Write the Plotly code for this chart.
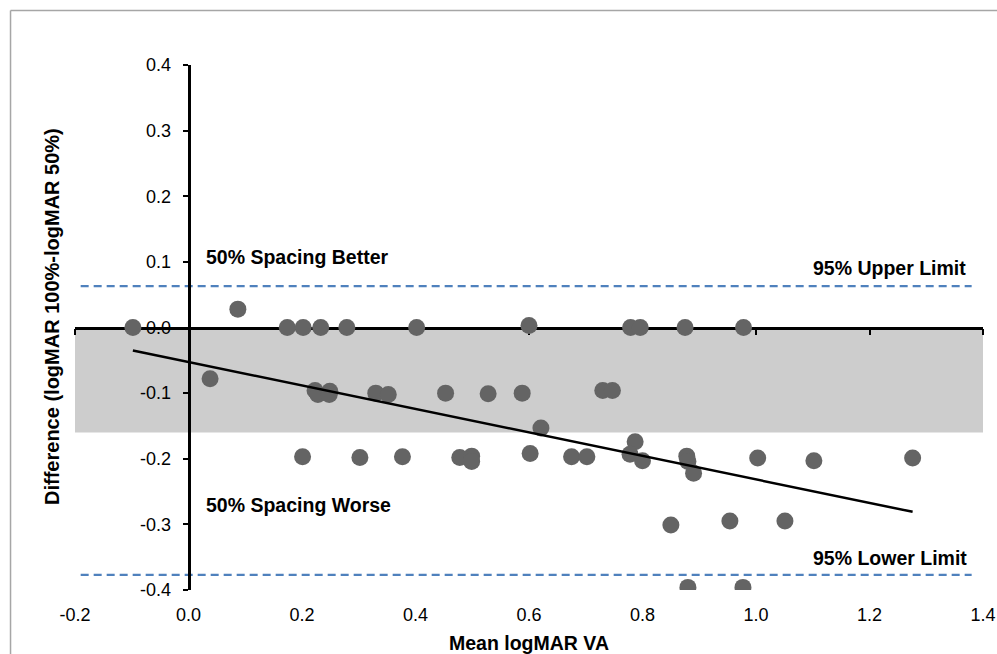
import plotly.graph_objects as go
import numpy as np

# ---- data ----
mean_va = [-0.098, 0.038, 0.087, 0.174, 0.202, 0.233, 0.279, 0.402, 0.600, 0.779,
           0.796, 0.875, 0.978, 0.223, 0.228, 0.249, 0.248, 0.330, 0.352, 0.453,
           0.528, 0.588, 0.730, 0.747, 0.621, 0.201, 0.302, 0.377, 0.478, 0.499,
           0.499, 0.602, 0.675, 0.702, 0.787, 0.778, 0.800, 0.878, 0.880, 0.890,
           1.003, 1.102, 1.276, 0.850, 0.954, 1.051, 0.880, 0.977]
difference = [0.000, -0.078, 0.028, 0.000, 0.000, 0.000, 0.000, 0.000, 0.003, 0.000,
              0.000, 0.000, 0.000, -0.096, -0.102, -0.097, -0.102, -0.100, -0.102, -0.100,
              -0.101, -0.100, -0.096, -0.096, -0.153, -0.197, -0.198, -0.197, -0.198, -0.196,
              -0.204, -0.192, -0.197, -0.197, -0.174, -0.193, -0.203, -0.196, -0.204, -0.222,
              -0.199, -0.203, -0.199, -0.301, -0.295, -0.295, -0.396, -0.396]

upper_limit = 0.063
lower_limit = -0.377
limit_x = [-0.19, 1.38]
band_top = 0.0
band_bottom = -0.16
reg_intercept = -0.0525
reg_slope = -0.179

x_ticks = [-0.2, 0.0, 0.2, 0.4, 0.6, 0.8, 1.0, 1.2, 1.4]
y_ticks = [-0.4, -0.3, -0.2, -0.1, 0.0, 0.1, 0.2, 0.3, 0.4]
x_tick_labels = ["-0.2", "0.0", "0.2", "0.4", "0.6", "0.8", "1.0", "1.2", "1.4"]
y_tick_labels = ["-0.4", "-0.3", "-0.2", "-0.1", "0.0", "0.1", "0.2", "0.3", "0.4"]

labels = {
    "better": "50% Spacing Better",
    "worse": "50% Spacing Worse",
    "upper": "95% Upper Limit",
    "lower": "95% Lower Limit",
}
label_pos = {
    "better": (0.027, 0.107, "left"),
    "worse": (0.027, -0.2705, "left"),
    "upper": (1.374, 0.0914, "right"),
    "lower": (1.375, -0.351, "right"),
}

FONT = "Liberation Sans, Arial, sans-serif"
BLUE = "#4F81BD"
DOT = "#646464"

fig = go.Figure()

# limit lines (main x axis)
for yv in (upper_limit, lower_limit):
    fig.add_trace(go.Scatter(x=limit_x, y=[yv, yv], mode="lines",
                             line=dict(color=BLUE, width=2.2, dash="8px,5px"),
                             hoverinfo="skip", showlegend=False))

# data points (on the axis that crosses at y = 0)
fig.add_trace(go.Scatter(x=mean_va, y=difference, mode="markers", xaxis="x2",
                         marker=dict(size=17, color=DOT, line=dict(width=0)),
                         showlegend=False))

# regression line
rx = np.array([min(mean_va), max(mean_va)])
ry = reg_intercept + reg_slope * rx
fig.add_trace(go.Scatter(x=rx, y=ry, mode="lines", xaxis="x2",
                         line=dict(color="black", width=2.5),
                         hoverinfo="skip", showlegend=False))

# shaded band
fig.add_shape(type="rect", xref="x", yref="y", x0=x_ticks[0], x1=x_ticks[-1],
              y0=band_bottom, y1=band_top, fillcolor="#CDCDCD",
              line=dict(width=0), layer="below")

# outer chart border (top and left)
fig.add_shape(type="line", xref="paper", yref="paper", x0=-0.0710, x1=1.05,
              y0=1.1038, y1=1.1038, line=dict(color="#A6A6A6", width=1.5))
fig.add_shape(type="line", xref="paper", yref="paper", x0=-0.0710, x1=-0.0710,
              y0=1.1038, y1=-0.15, line=dict(color="#A6A6A6", width=1.5))

for k, txt in labels.items():
    x, y, anc = label_pos[k]
    fig.add_annotation(x=x, y=y, xref="x", yref="y", text=txt, showarrow=False,
                       xanchor=anc, yanchor="middle",
                       font=dict(family=FONT, size=19.5, color="black", weight="bold"))

# y axis title
fig.add_annotation(x=-0.0248, y=0.521, xref="paper", yref="paper",
                   text="Difference (logMAR 100%-logMAR 50%)", textangle=-90,
                   showarrow=False, xanchor="center", yanchor="middle",
                   font=dict(family=FONT, size=20, color="black", weight="bold"))

y_zero_pos = (0 - y_ticks[0]) / (y_ticks[-1] - y_ticks[0])
x_zero_pos = (0 - x_ticks[0]) / (x_ticks[-1] - x_ticks[0])

fig.update_layout(
    width=997, height=654,
    margin=dict(l=75, r=14, t=65, b=64, autoexpand=False),
    plot_bgcolor="white", paper_bgcolor="white",
    showlegend=False,
    font=dict(family=FONT, size=18, color="black"),
    xaxis=dict(range=[x_ticks[0], x_ticks[-1]], tickvals=x_ticks, ticktext=x_tick_labels,
               showline=False, ticks="", showgrid=False, zeroline=False,
               ticklabelstandoff=12, automargin=False,
               title=dict(text="Mean logMAR VA", standoff=12,
                          font=dict(family=FONT, size=19.5, color="black", weight="bold"))),
    xaxis2=dict(range=[x_ticks[0], x_ticks[-1]], tickvals=x_ticks, overlaying="x",
                anchor="free", position=y_zero_pos, matches="x",
                showline=True, linecolor="black", linewidth=2.5,
                ticks="outside", ticklen=6, tickwidth=2, tickcolor="black",
                showticklabels=False, showgrid=False, zeroline=False,
                layer="below traces", automargin=False),
    yaxis=dict(range=[y_ticks[0], y_ticks[-1]], tickvals=y_ticks, ticktext=y_tick_labels,
               anchor="free", position=x_zero_pos,
               showline=True, linecolor="black", linewidth=2.5,
               ticks="outside", ticklen=5, tickwidth=2, tickcolor="black",
               showgrid=False, zeroline=False, ticklabelstandoff=8, automargin=False),
)

fig.write_html("out.html")
